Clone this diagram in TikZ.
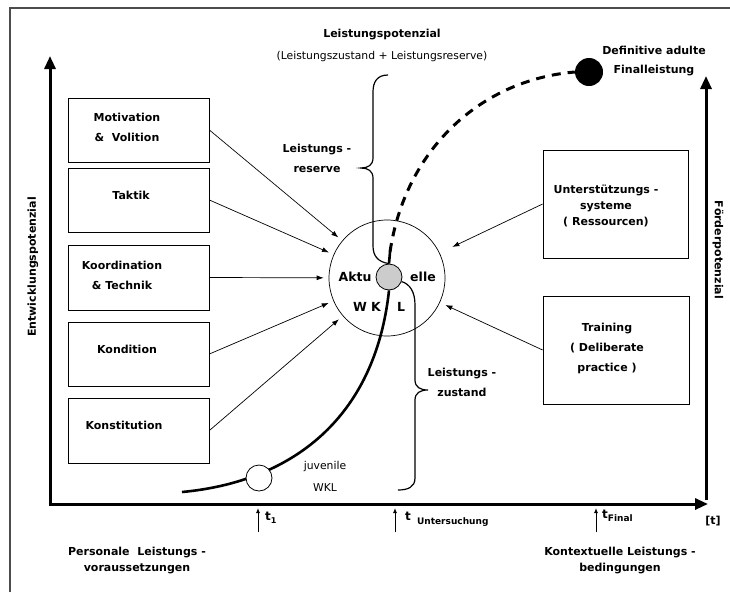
\documentclass[tikz,border=0pt]{standalone}
\usepackage{fontspec}
\setmainfont{DejaVu Sans}
\usetikzlibrary{arrows.meta}

\begin{document}
\begin{tikzpicture}[x=1pt,y=-1pt,font=\fontsize{11}{13}\selectfont\bfseries,
    box/.style={draw,line width=.8pt,minimum width=141pt,minimum height=64pt},
    boxtxt/.style={align=center,font=\fontsize{11}{20}\selectfont\bfseries},
    pfeil/.style={-{Latex[length=7pt,width=5pt]},line width=.7pt,shorten >=5pt},
    achse/.style={line width=3pt,-{Triangle[length=13pt,width=11pt]}},
    marke/.style={-{Latex[length=5pt,width=4pt]},line width=.9pt},
    klammer/.style={line width=1.2pt},
    kreis/.style={circle,draw,line width=.8pt,minimum size=26pt,inner sep=0pt},
    duenn/.style={font=\fontsize{10.8}{13}\selectfont\mdseries}]
  \useasboundingbox (0,0) rectangle (730,592);
  \draw[gray!60!black,line width=1.5pt] (10,592) -- (10,8) -- (730,8);
  \coordinate (O) at (50,504);
  \coordinate (R) at (706,504);
  \draw[achse] ([yshift=-1.5pt]O) -- (50,56);
  \draw[achse] ([xshift=-1.5pt]O) -- (708,504);
  \draw[achse] ([yshift=4pt]R) -- (706,76);
  \node[rotate=90] (ep) at (33,267) {Entwicklungspotenzial};
  \node[rotate=-90] (fp) at (718,250) {Förderpotenzial};
  \node (t) at (713,521) {[t]};

  \node[box] (mot) at (138.5,130) {};
  \node[box] (tak) at (138.5,200) {};
  \node[box,minimum height=65pt] (koo) at (138.5,277.5) {};
  \node[box] (kon) at (138.5,354) {};
  \node[box,minimum height=65pt] (kst) at (138.5,430.5) {};
  \node[boxtxt] at (127,127) {Motivation\\\&\ \ Volition};
  \node[boxtxt] at (131,195) {Taktik};
  \node[boxtxt] at (122,275) {Koordination\\\& Technik};
  \node[boxtxt] at (127,349) {Kondition};
  \node[boxtxt] at (124,425) {Konstitution};
  \node[box,minimum width=145pt,minimum height=108pt] (unt) at (615.5,204) {};
  \node[box,minimum width=146pt,minimum height=108pt] (tra) at (616,350) {};
  \node[align=center,font=\fontsize{11}{16}\selectfont\bfseries] at (606,206)
    {Unterstützungs -\\systeme\\( Ressourcen)};
  \node[boxtxt] at (607,348) {Training\\( Deliberate\\practice )};

  \node[circle,draw,line width=.7pt,minimum size=116pt] (akt) at (387,278) {};
  \foreach \b in {mot,tak,koo,kon,kst}
    \draw[pfeil] (\b.east) -- (akt);
  \draw[pfeil,shorten >=14pt] (unt.west) -- (akt);
  \draw[pfeil,shorten >=6pt] (tra.west) -- (akt);

  \node[kreis,fill=gray!40] (wkl) at (389,277) {};
  \node[circle,fill=black,minimum size=28pt,inner sep=0pt] (fin) at (589,72) {};
  \coordinate (start) at (182,492);
  \coordinate (top) at (390,252);
  \draw[line width=2.6pt] (start) .. controls (290,482) and (375,420) .. (wkl.south);
  \draw[line width=2.6pt] (wkl.north) -- (top);
  \draw[line width=3pt,dash pattern=on 9pt off 7pt] (top) .. controls (405,150) and (480,80) .. (fin.west);
  \node[kreis,fill=white] (juv) at (259,478) {};

  \begin{scope}[font=\fontsize{12.5}{14}\selectfont\bfseries]
    \node (ak) at (355,277) {Aktu};
    \node (el) at (423,277) {elle};
    \node (wk) at (367,307) {W K};
    \node (l) at (401,307) {L};
  \end{scope}

  \draw[klammer] (388,75) .. controls (377,75) and (373,82) .. (373,92) -- (373,158)
    .. controls (373,165) and (368,168) .. (361,168) .. controls (368,168) and (373,171) .. (373,178)
    -- (373,246) .. controls (373,256) and (378,262) .. (wkl.north);
  \draw[klammer] (wkl.-20) .. controls (410,284) and (415,292) .. (415,305) -- (415,380)
    .. controls (415,387) and (420,390) .. (428,390) .. controls (420,390) and (415,393) .. (415,400)
    -- (415,478) .. controls (415,487) and (408,490) .. (398,490);

  \node (lp) at (382,35) {Leistungspotenzial};
  \node[duenn] (lpz) at (382,57) {(Leistungszustand + Leistungsreserve)};
  \node[align=center,font=\fontsize{11}{19}\selectfont\bfseries] (da) at (654,61) {Definitive adulte\\Finalleistung};
  \node[boxtxt] (lr) at (317,158) {Leistungs -\\reserve};
  \node[boxtxt] (lz) at (462,382) {Leistungs -\\zustand};
  \node[align=center,font=\fontsize{10.8}{22}\selectfont\mdseries] (jw) at (325,476) {juvenile\\WKL};

  \draw[marke] (258,532) -- (258,508);
  \draw[marke] (395,532) -- (395,508);
  \draw[marke] (596,532) -- (596,508);
  \node[anchor=west,inner sep=0pt] (t1) at (265,518)
    {\fontsize{12}{14}\selectfont t\raisebox{-3pt}{\fontsize{8}{9}\selectfont 1}};
  \node[anchor=west,inner sep=0pt] (tu) at (405,519)
    {\fontsize{12}{14}\selectfont t\ \,\raisebox{-4pt}{\fontsize{9}{10}\selectfont Untersuchung}};
  \node[anchor=west,inner sep=0pt] (tf) at (602,516)
    {\fontsize{12}{14}\selectfont t\raisebox{-3pt}{\fontsize{9}{10}\selectfont Final}};

  \node[align=center,font=\fontsize{11}{16}\selectfont\bfseries] (pl) at (137,560)
    {Personale\ \ Leistungs -\\voraussetzungen};
  \node[align=center,font=\fontsize{11}{16}\selectfont\bfseries] (kl) at (620,560)
    {Kontextuelle Leistungs -\\bedingungen};
\end{tikzpicture}
\end{document}
